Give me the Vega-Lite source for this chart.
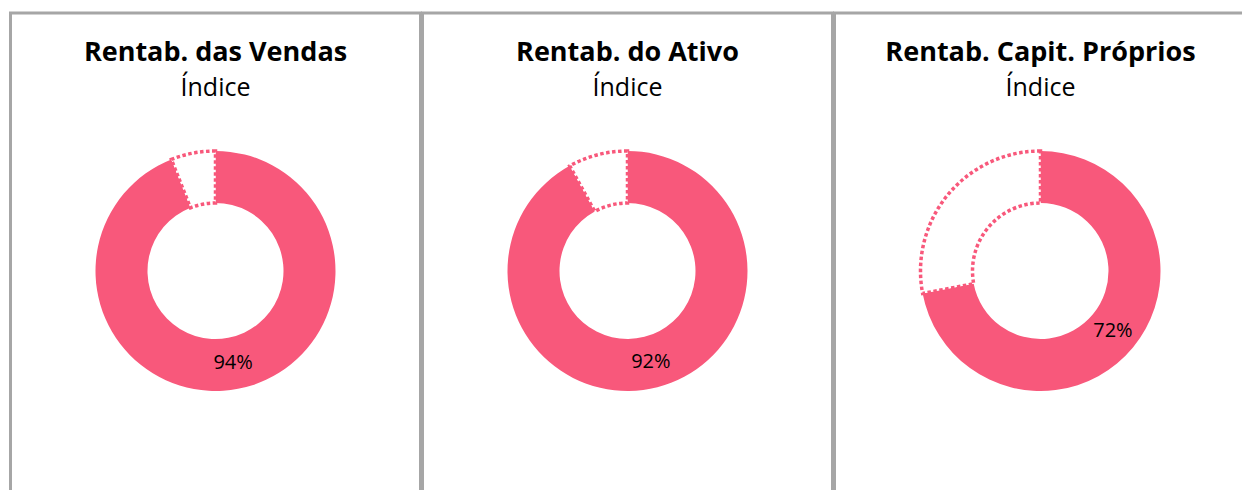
{
  "$schema": "https://vega.github.io/schema/vega-lite/v6.json",
  "padding": {"left": 8.5, "top": 11, "right": 0, "bottom": 0},
  "autosize": {"type": "pad"},
  "background": "white",
  "config": {
    "view": {"stroke": "#a6a6a6", "strokeWidth": 3},
    "concat": {"spacing": -2},
    "title": {
      "anchor": "middle",
      "offset": -89,
      "font": "Open Sans",
      "fontSize": 27,
      "fontWeight": "bold",
      "color": "#000000",
      "subtitleFont": "Open Sans",
      "subtitleFontSize": 25,
      "subtitleFontWeight": "normal",
      "subtitleColor": "#000000",
      "subtitlePadding": 9
    }
  },
  "data": {
    "values": [
      {"painel": "Vendas", "parte": "Valor", "valor": 0.94, "rotulo": "94%"},
      {"painel": "Vendas", "parte": "Resto", "valor": 0.06, "rotulo": ""},
      {"painel": "Ativo", "parte": "Valor", "valor": 0.92, "rotulo": "92%"},
      {"painel": "Ativo", "parte": "Resto", "valor": 0.08, "rotulo": ""},
      {"painel": "Capitais", "parte": "Valor", "valor": 0.72, "rotulo": "72%"},
      {"painel": "Capitais", "parte": "Resto", "valor": 0.28, "rotulo": ""}
    ]
  },
  "hconcat": [
    {
      "width": 410,
      "height": 516,
      "view": {"stroke": "#a6a6a6", "strokeWidth": 3},
      "title": {"text": "Rentab. das Vendas", "subtitle": "Índice"},
      "transform": [{"filter": "datum.painel == 'Vendas'"}],
      "encoding": {
        "theta": {"field": "valor", "type": "quantitative", "stack": true},
        "order": {"field": "parte", "sort": "descending"}
      },
      "layer": [
        {
          "mark": {"type": "arc", "outerRadius": 120, "innerRadius": 68, "stroke": "#F8587B", "strokeDash": [3.5, 2.5]},
          "encoding": {
            "color": {"field": "parte", "type": "nominal", "scale": {"domain": ["Valor", "Resto"], "range": ["#F8587B", "#ffffff"]}, "legend": null},
            "strokeWidth": {"condition": {"test": "datum.parte == 'Resto'", "value": 3.5}, "value": 0}
          }
        },
        {
          "mark": {"type": "text", "radius": 94, "font": "Open Sans", "fontSize": 20, "color": "#000000"},
          "encoding": {"text": {"field": "rotulo"}}
        }
      ]
    },
    {
      "width": 410,
      "height": 516,
      "view": {"stroke": "#a6a6a6", "strokeWidth": 3},
      "title": {"text": "Rentab. do Ativo", "subtitle": "Índice"},
      "transform": [{"filter": "datum.painel == 'Ativo'"}],
      "encoding": {
        "theta": {"field": "valor", "type": "quantitative", "stack": true},
        "order": {"field": "parte", "sort": "descending"}
      },
      "layer": [
        {
          "mark": {"type": "arc", "outerRadius": 120, "innerRadius": 68, "stroke": "#F8587B", "strokeDash": [3.5, 2.5]},
          "encoding": {
            "color": {"field": "parte", "type": "nominal", "scale": {"domain": ["Valor", "Resto"], "range": ["#F8587B", "#ffffff"]}, "legend": null},
            "strokeWidth": {"condition": {"test": "datum.parte == 'Resto'", "value": 3.5}, "value": 0}
          }
        },
        {
          "mark": {"type": "text", "radius": 94, "font": "Open Sans", "fontSize": 20, "color": "#000000"},
          "encoding": {"text": {"field": "rotulo"}}
        }
      ]
    },
    {
      "width": 412,
      "height": 516,
      "view": {"stroke": "#a6a6a6", "strokeWidth": 3},
      "title": {"text": "Rentab. Capit. Próprios", "subtitle": "Índice"},
      "transform": [{"filter": "datum.painel == 'Capitais'"}],
      "encoding": {
        "theta": {"field": "valor", "type": "quantitative", "stack": true},
        "order": {"field": "parte", "sort": "descending"}
      },
      "layer": [
        {
          "mark": {"type": "arc", "outerRadius": 120, "innerRadius": 68, "stroke": "#F8587B", "strokeDash": [3.5, 2.5]},
          "encoding": {
            "color": {"field": "parte", "type": "nominal", "scale": {"domain": ["Valor", "Resto"], "range": ["#F8587B", "#ffffff"]}, "legend": null},
            "strokeWidth": {"condition": {"test": "datum.parte == 'Resto'", "value": 3.5}, "value": 0}
          }
        },
        {
          "mark": {"type": "text", "radius": 94, "font": "Open Sans", "fontSize": 20, "color": "#000000"},
          "encoding": {"text": {"field": "rotulo"}}
        }
      ]
    }
  ]
}
